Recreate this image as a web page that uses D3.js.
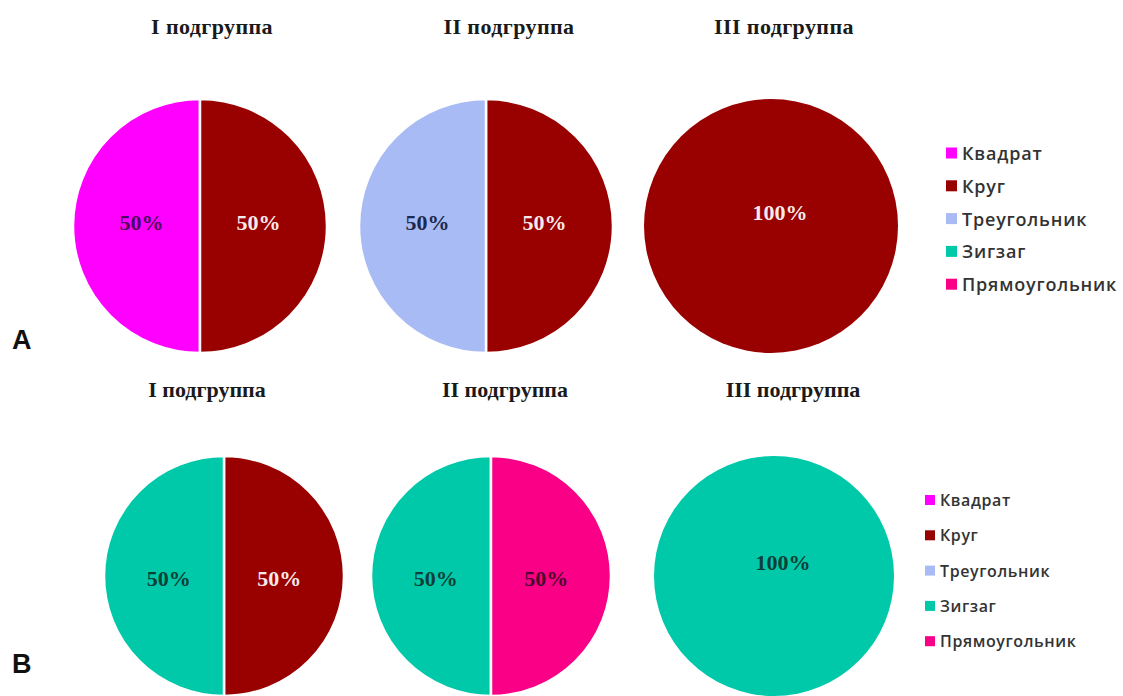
<!DOCTYPE html>
<html>
<head>
<meta charset="utf-8">
<script src="https://cdn.jsdelivr.net/npm/d3@7"></script>
<style>
  html, body { margin: 0; padding: 0; background: #ffffff; }
  svg { display: block; }
</style>
</head>
<body>
<svg id="chart" width="1123" height="696"></svg>
<script>
// Shape categories shown in the legend
const categories = ["Квадрат", "Круг", "Треугольник", "Зигзаг", "Прямоугольник"];
// Subgroup titles above each pie
const subgroups = ["I подгруппа", "II подгруппа", "III подгруппа"];
// Percent per category (in category order), one row per subgroup
const valuesA = [
  [50, 50, 0, 0, 0],
  [0, 50, 50, 0, 0],
  [0, 100, 0, 0, 0]
];
const valuesB = [
  [0, 50, 0, 50, 0],
  [0, 0, 0, 50, 50],
  [0, 0, 0, 100, 0]
];
// Clockwise slice order starting from 12 o'clock
const sliceOrder = ["Круг", "Прямоугольник", "Квадрат", "Треугольник", "Зигзаг"];
const panelLetters = ["A", "B"];

// Styling
const fillColor = d3.scaleOrdinal()
  .domain(categories)
  .range(["#ff00ff", "#990000", "#a9bbf4", "#00c9a9", "#fa0086"]);
const labelColor = d3.scaleOrdinal()
  .domain(categories)
  .range(["#4c0860", "#f6eaea", "#1b2a4c", "#0b3f37", "#4a0830"]);

const svg = d3.select("#chart");

const panels = [
  {
    values: valuesA,
    cx: [200, 486, 771], cy: 226, r: 127, labelDy: -4,
    titleX: [212, 509, 784], titleY: 34, titleSize: 22, titleSpacing: 0.4,
    letterY: 349,
    legendX: 946, legendY: 153, legendStep: 32.8, legendSize: 18, legendSpacing: 0.8, swatch: 11
  },
  {
    values: valuesB,
    cx: [224, 491, 774], cy: 576, r: 120, labelDy: 2,
    titleX: [207, 505, 793], titleY: 397, titleSize: 22, titleSpacing: 0,
    letterY: 673,
    legendX: 925, legendY: 500, legendStep: 35.3, legendSize: 16, legendSpacing: 0.6, swatch: 10
  }
];

const pie = d3.pie()
  .value(d => d.value)
  .sort((a, b) => sliceOrder.indexOf(a.category) - sliceOrder.indexOf(b.category));

panels.forEach((p, pi) => {
  const g = svg.append("g");
  const xPos = d3.scaleOrdinal().domain(subgroups).range(p.cx);
  const tPos = d3.scaleOrdinal().domain(subgroups).range(p.titleX);

  const arc = d3.arc().innerRadius(0).outerRadius(p.r);
  const labelArc = d3.arc().innerRadius(0).outerRadius(p.r * 0.92);

  subgroups.forEach((sg, si) => {
    const rows = categories
      .map((c, ci) => ({ category: c, value: p.values[si][ci] }))
      .filter(d => d.value > 0);
    const arcs = pie(rows);

    const pg = g.append("g")
      .attr("transform", `translate(${xPos(sg)},${p.cy})`);

    pg.selectAll("path.slice")
      .data(arcs)
      .join("path")
      .attr("class", "slice")
      .attr("d", arc)
      .attr("fill", d => fillColor(d.data.category))
      .attr("stroke", "#ffffff")
      .attr("stroke-width", arcs.length > 1 ? 2.5 : 0);

    pg.selectAll("text.pct")
      .data(arcs)
      .join("text")
      .attr("class", "pct")
      .attr("transform", d => {
        if (d.endAngle - d.startAngle >= 2 * Math.PI - 1e-6) return `translate(9,-14)`;
        const [x, y] = labelArc.centroid(d);
        return `translate(${x},${y + p.labelDy})`;
      })
      .attr("text-anchor", "middle")
      .attr("dominant-baseline", "central")
      .attr("font-family", "'Liberation Serif', 'Times New Roman', serif")
      .attr("font-weight", "bold")
      .attr("font-size", 22)
      .attr("fill", d => labelColor(d.data.category))
      .text(d => d.data.value + "%");

    g.append("text")
      .attr("x", tPos(sg))
      .attr("y", p.titleY)
      .attr("text-anchor", "middle")
      .attr("font-family", "'Liberation Serif', 'Times New Roman', serif")
      .attr("font-weight", "bold")
      .attr("font-size", p.titleSize)
      .attr("letter-spacing", p.titleSpacing)
      .attr("fill", "#1a1a1a")
      .text(sg);
  });

  // Legend
  const lg = g.append("g");
  const items = lg.selectAll("g.item")
    .data(categories)
    .join("g")
    .attr("class", "item")
    .attr("transform", (d, i) => `translate(${p.legendX},${p.legendY + i * p.legendStep})`);
  items.append("rect")
    .attr("x", 0)
    .attr("y", -p.swatch / 2)
    .attr("width", p.swatch)
    .attr("height", p.swatch)
    .attr("fill", d => fillColor(d));
  items.append("text")
    .attr("x", p.swatch + 5)
    .attr("y", 0)
    .attr("dominant-baseline", "central")
    .attr("font-family", "'Open Sans', 'Noto Sans', sans-serif")
    .attr("font-weight", 600)
    .attr("font-size", p.legendSize)
    .attr("letter-spacing", p.legendSpacing)
    .attr("fill", "#333333")
    .text(d => d);

  // Panel letter
  g.append("text")
    .attr("x", 12)
    .attr("y", p.letterY)
    .attr("font-family", "'Liberation Sans', Arial, sans-serif")
    .attr("font-weight", "bold")
    .attr("font-size", 27)
    .attr("fill", "#111111")
    .text(panelLetters[pi]);
});
</script>
</body>
</html>
